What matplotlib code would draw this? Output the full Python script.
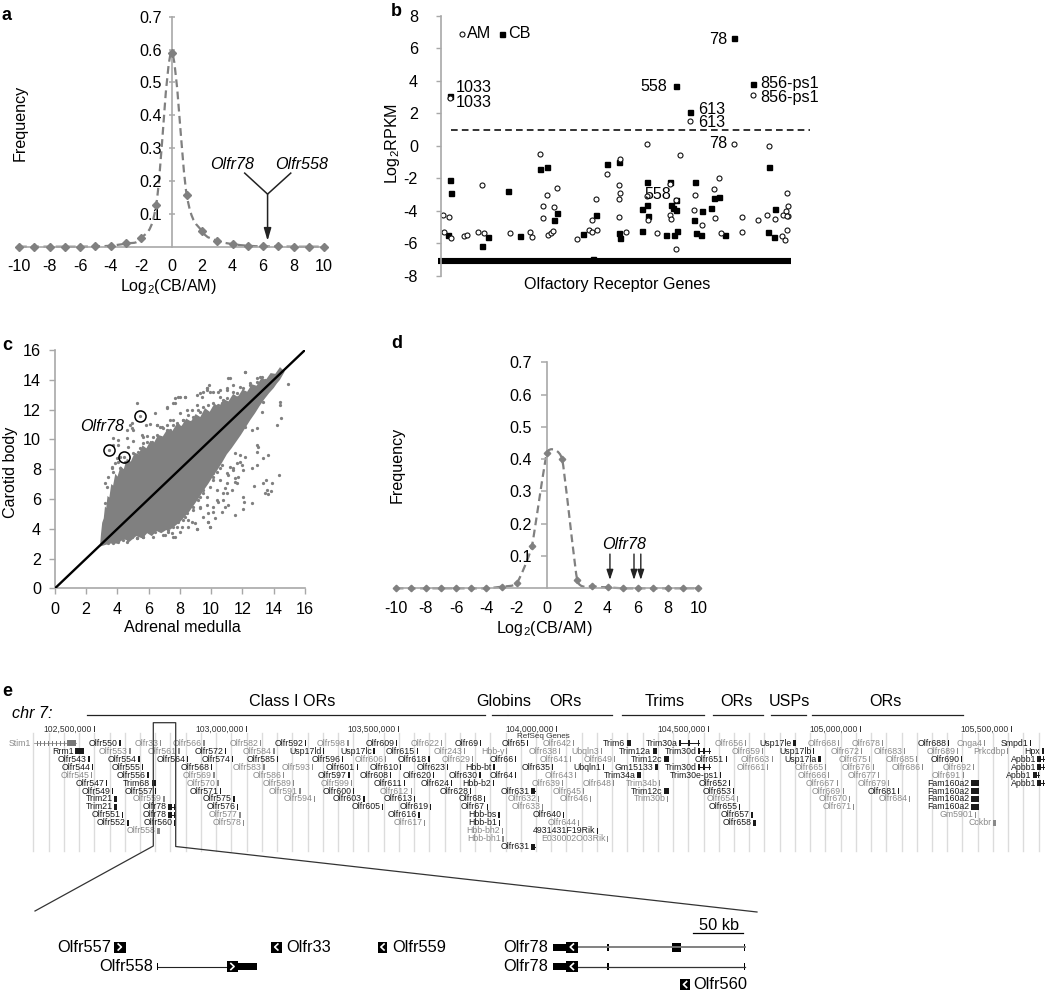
import numpy as np
import matplotlib
matplotlib.use("Agg")
import matplotlib.pyplot as plt
from matplotlib.path import Path
from matplotlib.patches import PathPatch, Polygon

plt.rcParams['font.family'] = ['Liberation Sans', 'DejaVu Sans']
plt.rcParams['mathtext.default'] = 'regular'
plt.rcParams['axes.unicode_minus'] = False

W, H = 1050, 998
FS = 11.6
GREY = '#808080'
SPINE = '#a8a8a8'

# ---------------- panel a / d data
bins = list(range(-10, 11))
freq_a = [0, 0, 0, 0, 0, 0.001, 0.003, 0.01, 0.025, 0.128, 0.59, 0.157, 0.047, 0.018, 0.008, 0.003, 0.001, 0.001, 0, 0, 0]
freq_d = [0, 0, 0, 0, 0, 0, 0, 0.005, 0.015, 0.13, 0.42, 0.40, 0.025, 0.006, 0.003, 0, 0, 0, 0, 0, 0]
freq_ticks = [0.1, 0.2, 0.3, 0.4, 0.5, 0.6, 0.7]
bin_ticks = list(range(-10, 11, 2))
d_arrows = [4.16, 5.75, 6.2]

# ---------------- panel b data
cb_gene = [9, 9, 9.7, 7.3, 47.3, 41, 66.7, 79, 99.3, 106, 112.7, 116.3, 142, 154.7, 151.7, 165.7, 178.3, 177.7, 179, 201.3,
           206.3, 206.3, 206.7, 201.3, 225, 228.7, 229.7, 232, 235, 234.7, 235.7, 233.3, 234.7, 249.3, 253.7, 253, 261.3,
           254.7, 259.7, 270, 272.7, 277.7, 284.3, 293, 311.7, 328.3, 326.7, 334, 332.7]
cb_rpkm = [3.09, -2.09, -2.90, -5.48, -5.58, -6.18, -2.76, -5.52, -1.41, -1.27, -4.54, -4.15, -5.42, -4.23, -6.95, -1.10,
           -1.00, -5.36, -5.64, -3.87, -3.62, -2.21, -4.34, -5.21, -5.50, -2.23, -3.62, -3.82, -3.97, -3.31, -5.21, -5.50,
           3.70, 2.11, -2.25, -4.54, -3.99, -5.38, -5.48, -3.82, -3.21, -3.15, -5.48, 6.65, 3.78, -1.33, -5.32, -3.91, -5.62]
am_gene = [9, 2.3, 8.3, 3, 9.7, 23.3, 26.3, 37.3, 43.3, 41, 69.3, 88.7, 91.3, 99.3, 105.7, 101.7, 113, 101.7, 106.7, 109.7,
           111.7, 116.3, 135.7, 147.7, 151.3, 156, 151.3, 154.7, 166, 179, 177.7, 179, 178, 178, 185, 206.3, 206.3, 206.7,
           216, 229.3, 229.3, 230.3, 238.7, 234.7, 235.3, 249.3, 253.7, 253, 261.3, 273.7, 272.7, 277.7, 280, 293, 301.3,
           301.3, 316.7, 326.3, 334, 328.3, 311.7, 342.3, 345.7, 346.7, 345.3, 347.3, 346.3, 345.7, 340.7, 344]
am_rpkm = [2.92, -4.23, -4.36, -5.28, -5.64, -5.56, -5.46, -5.30, -5.36, -2.43, -5.38, -5.32, -5.58, -0.51, -3.05, -3.70,
           -3.78, -4.42, -5.46, -5.36, -5.21, -2.60, -5.73, -5.19, -5.30, -5.19, -4.54, -3.29, -1.74, -0.80, -2.43, -2.90,
           -3.25, -4.38, -5.30, 0.10, -3.11, -4.54, -5.36, -2.33, -4.27, -4.50, -0.59, -3.31, -6.36, 1.51, -3.05, -3.93,
           -4.89, -4.46, -2.64, -2.00, -5.38, 0.12, -4.36, -5.30, -4.54, -4.25, -4.50, 0, 3.15, -4.25, -2.90, -3.72, -4.03,
           -4.34, -4.34, -5.19, -5.52, -5.77]
undetected_level = -7.1
threshold = 1
rpkm_ticks = [-8, -6, -4, -2, 0, 2, 4, 6, 8]

# ---------------- panel c data
cloud_am = [2.88, 2.94, 3.02, 3.12, 3.2, 3.28, 3.36, 3.48, 3.6, 3.72, 3.86, 4.0, 4.2, 4.4, 4.6, 4.85, 5.1, 5.35, 5.6, 5.85, 6.1,
            6.35, 6.6, 6.9, 7.2, 7.5, 7.8, 8.1, 8.4, 8.7, 9.0, 9.3, 9.6, 9.9, 10.2, 10.5, 10.8, 11.1, 11.4, 11.7, 12.0, 12.3,
            12.6, 12.9, 13.2, 13.5, 13.8, 14.1, 14.4, 14.7,
            14.4, 14.2, 14.0, 13.7, 13.4, 13.1, 12.8, 12.5, 12.2, 11.9, 11.6, 11.3, 11.0, 10.7, 10.4, 10.1, 9.8, 9.5, 9.2, 8.9,
            8.6, 8.3, 8.0, 7.7, 7.4, 7.1, 6.8, 6.5, 6.2, 5.9, 5.6, 5.2, 4.8, 4.4, 4.0, 3.5]
cloud_cb = [2.8, 3.6, 4.4, 4.7, 5.5, 5.4, 6.2, 6.1, 7.0, 6.9, 7.7, 7.5, 8.2, 8.0, 8.7, 8.5, 9.1, 9.0, 9.6, 9.4, 9.9,
            9.8, 10.3, 10.2, 10.7, 10.55, 11.05, 10.9, 11.4, 11.2, 11.7, 11.5, 12.1, 11.85, 12.4, 12.2, 12.7, 12.55, 13.05, 12.85,
            13.35, 13.2, 13.7, 13.6, 14.1, 14.0, 14.45, 14.4, 14.85, 14.55,
            14.0, 13.75, 13.45, 13.1, 12.7, 12.25, 11.75, 11.3, 10.8, 10.3, 9.85, 9.4, 9.0, 8.45, 7.95, 7.5, 7.0, 6.55, 6.05, 5.6,
            5.15, 4.8, 4.45, 4.2, 3.95, 3.9, 3.7, 3.85, 3.5, 3.7, 3.35, 3.5, 3.15, 3.3, 3.0, 3.0]
out_am = [5.23, 4.8, 4.9, 4.59, 5.65, 5.87, 5.01, 4.59, 3.73, 3.73, 3.2, 4.05, 4.05, 5.82, 6.08, 6.5, 7.15, 7.68, 8.0, 8.32,
          7.68, 9.07, 9.39, 9.49, 9.7, 9.88, 10.56, 11.2, 12.16, 12.48, 12.9, 13.12, 10.56, 10.99, 11.41, 10.13, 9.7, 9.28,
          6.72, 6.29, 6.93, 7.36, 7.57, 8.0, 8.43, 8.75, 9.07, 9.81, 10.24, 10.67, 10.99, 11.84, 12.69, 3.95,
          3.41, 3.31, 3.63, 3.84, 4.16, 4.48, 4.69, 5.01, 5.44, 5.65, 6.19, 6.61, 7.15, 7.79, 8.21, 3.2,
          14.93, 14.4, 14.4, 14.46, 14.19, 13.33, 13.23, 12.9, 12.59, 12.16, 12.9, 13.01, 12.9, 13.33, 13.61, 12.9, 12.59,
          11.84, 11.2, 11.52, 11.63, 14.34, 13.91, 13.48, 13.33, 12.76, 13.55, 13.81, 13.44, 13.61, 12.05, 12.12, 12.59,
          12.05, 11.52, 10.77, 10.35, 9.81, 9.81, 9.92, 9.07, 10.13, 10.88, 11.3, 10.99, 10.56, 10.35, 9.7, 9.28, 9.49,
          8.75, 8.53, 8.11, 7.57, 6.93, 7.25, 6.29, 5.65, 5.23, 4.59, 11.41, 10.56, 10.13, 9.49, 9.17, 8.85, 8.32, 7.79, 10.99]
out_cb = [12.46, 10.96, 10.74, 10.63, 10.18, 10.22, 9.89, 10.07, 10.07, 9.62, 7.05, 9.62, 9.96, 10.96, 11.0, 10.96, 12.08,
          12.42, 12.86, 12.86, 12.75, 12.98, 12.86, 13.2, 13.31, 13.65, 13.31, 14.09, 14.5, 13.76, 13.87, 14.2, 12.86, 13.42,
          13.2, 13.2, 13.42, 11.86, 10.85, 10.18, 10.74, 11.3, 10.96, 11.74, 11.97, 11.97, 12.3, 12.3, 12.19, 12.42, 12.75,
          13.53, 13.42, 8.72,
          7.49, 6.82, 8.17, 8.39, 8.84, 8.5, 9.51, 9.06, 9.4, 9.73, 9.84, 9.73, 10.63, 11.07, 11.3, 5.7,
          13.71, 12.53, 12.3, 11.45, 10.96, 12.53, 11.86, 10.74, 10.63, 10.85, 9.62, 9.51, 9.17, 8.72, 8.95, 8.28, 8.05,
          8.5, 8.17, 7.38, 7.05, 7.6, 7.09, 7.27, 7.09, 6.87, 6.6, 6.53, 6.38, 6.31, 6.15, 5.82, 5.7,
          5.32, 4.92, 6.38, 5.93, 5.03, 4.47, 4.14, 3.96, 5.48, 5.48, 6.6, 7.05, 7.27, 6.6, 6.15, 5.48, 4.81,
          4.47, 4.14, 4.14, 3.47, 3.58, 3.91, 3.47, 3.47, 3.36, 3.13, 7.94, 8.05, 7.49, 6.38, 5.93, 5.48, 4.81, 4.14, 6.38]
low_am = [7.68, 8.0, 7.57, 7.89, 8.21, 8.53, 8.96, 9.07, 9.92, 9.81, 10.24, 10.67, 10.13, 9.28, 9.71, 8.85, 8.43, 8.75, 9.28,
          9.49, 9.92, 10.45, 10.77, 11.09, 10.88, 10.13, 9.71, 9.07, 11.09, 11.41, 11.95, 12.05, 11.73, 11.52, 10.99, 11.63,
          12.16, 11.84, 11.52, 10.67, 10.35, 10.13, 6.19, 6.40, 6.72, 7.04, 7.25, 7.47, 5.65, 5.23, 4.69, 4.37, 4.91, 4.05,
          3.73, 3.41, 6.83, 6.93, 7.68, 7.25, 6.61]
low_cb = [3.47, 3.80, 4.14, 4.48, 4.59, 4.59, 4.36, 3.96, 4.14, 4.48, 4.70, 5.15, 5.15, 5.37, 5.59, 5.26, 5.03, 5.71, 6.15,
          6.60, 6.83, 5.82, 5.93, 5.59, 6.71, 7.27, 7.39, 6.94, 7.61, 8.06, 8.28, 7.95, 7.50, 7.16, 7.72, 8.39, 8.84, 8.95,
          9.06, 8.28, 7.83, 7.72, 4.03, 3.80, 3.92, 3.58, 3.80, 3.69, 3.47, 3.36, 3.24, 3.24, 3.47, 3.13, 3.02, 3.02, 4.70,
          4.36, 4.59, 4.59, 4.25]
up_am = [3.63, 3.73, 4.16, 4.05, 4.59, 5.01, 5.33, 5.65, 5.44, 5.97, 6.29, 5.87, 6.51, 6.72, 6.83, 7.15, 7.57, 7.89, 8.21, 8.53,
         8.85, 8.64, 9.17, 9.49, 9.71, 10.13, 10.45, 10.77, 9.71, 9.92, 9.28, 10.45, 10.99, 11.41, 11.09, 12.16, 12.91, 13.23,
         13.44, 11.63, 12.05, 12.48, 5.01, 4.91, 5.55, 6.40, 7.15, 7.57, 7.89, 8.32, 6.51, 7.36, 8.32, 9.07, 9.39, 9.81, 10.24,
         10.67, 11.2, 11.73, 12.16, 12.69]
up_cb = [8.06, 7.83, 8.06, 8.51, 8.17, 8.51, 9.18, 9.07, 8.73, 9.40, 9.63, 9.85, 10.30, 10.07, 10.86, 10.97, 11.30, 10.97, 11.30,
         11.64, 11.53, 11.19, 11.98, 12.20, 11.86, 12.42, 12.31, 12.65, 13.43, 13.21, 13.10, 13.21, 13.32, 13.66, 14.10, 14.55,
         14.10, 14.21, 13.99, 13.10, 13.43, 13.66, 10.63, 11.08, 10.30, 11.75, 12.20, 12.42, 12.87, 12.87, 10.97, 10.63, 10.86,
         11.19, 11.53, 11.42, 11.86, 12.09, 12.54, 12.87, 12.87, 13.21]
olfr78_am = [5.45, 3.45, 4.4]
olfr78_cb = [11.6, 9.3, 8.8]
expr_ticks = list(range(0, 17, 2))

# ---------------- panel e data (track position, row, shade k=black g=grey)
gene_names = [
 ["Olfr550","Olfr33","Olfr566","Olfr582","Olfr592","Olfr598","Olfr609","Olfr622","Olfr69","Olfr65","Olfr642","Trim6","Trim30a","Olfr656","Usp17le","Olfr668","Olfr678","Olfr688","Cnga4","Smpd1"],
 ["Rrm1","Olfr553","Olfr561","Olfr572","Olfr584","Usp17ld","Usp17lc","Olfr615","Olfr243","Hbb-y","Olfr638","Ubqln3","Trim12a","Trim30d","Olfr659","Usp17lb","Olfr672","Olfr683","Olfr689","Prkcdbp","Hpx"],
 ["Olfr543","Olfr554","Olfr564","Olfr574","Olfr585","Olfr596","Olfr606","Olfr618","Olfr629","Olfr66","Olfr641","Olfr649","Trim12c","Olfr651","Olfr663","Usp17la","Olfr675","Olfr685","Olfr690","Apbb1"],
 ["Olfr544","Olfr555","Olfr568","Olfr583","Olfr593","Olfr601","Olfr610","Olfr623","Hbb-bt","Olfr635","Ubqln1","Gm15133","Trim30d","Olfr661","Olfr665","Olfr676","Olfr686","Olfr692","Apbb1"],
 ["Olfr545","Olfr556","Olfr569","Olfr586","Olfr597","Olfr608","Olfr620","Olfr630","Olfr64","Olfr643","Trim34a","Trim30e-ps1","Olfr666","Olfr677","Olfr691","Apbb1"],
 ["Olfr547","Trim68","Olfr570","Olfr589","Olfr599","Olfr611","Olfr624","Hbb-b2","Olfr639","Olfr648","Trim34b","Olfr652","Olfr667","Olfr679","Fam160a2","Apbb1"],
 ["Olfr549","Olfr557","Olfr571","Olfr591","Olfr600","Olfr612","Olfr628","Olfr631","Olfr645","Trim12c","Olfr653","Olfr669","Olfr681","Fam160a2"],
 ["Trim21","Olfr559","Olfr575","Olfr594","Olfr603","Olfr613","Olfr68","Olfr632","Olfr646","Trim30b","Olfr654","Olfr670","Olfr684","Fam160a2"],
 ["Trim21","Olfr78","Olfr576","Olfr605","Olfr619","Olfr67","Olfr633","Olfr655","Olfr671","Fam160a2"],
 ["Olfr551","Olfr78","Olfr577","Olfr616","Hbb-bs","Olfr640","Olfr657","Gm5901"],
 ["Olfr552","Olfr560","Olfr578","Olfr617","Hbb-b1","Olfr644","Olfr658","Cckbr"],
 ["Olfr558","Hbb-bh2","4931431F19Rik"],
 ["Hbb-bh1","E030002O03Rik"],
 ["Olfr631"],
]
gene_pos = [
 [119.3,160,203.3,260,305,347.3,396,441,480,527,573,626.7,679,745,793,838,881.7,947.7,984,1030],
 [75,129.3,178.3,225,273.3,322.7,373.3,416.7,464,506,559,600.7,652.7,698,761.7,813,860.7,904,956.7,1006.7,1041.7],
 [88.3,138.3,186.7,231.7,276.7,341.7,385,428.3,471.7,515,570,614,664,725.7,771.7,817.7,869,915.7,961,1037.7],
 [91.7,141.7,210.7,263.3,311.7,356.7,400,446.7,493.3,551.7,603,655,698,767,825,872.7,922,973,1037.7],
 [90.7,147.3,213.3,282.7,348.3,390,432.7,479.3,515,575,636.7,720,828,878,962.7,1033],
 [106,151.7,217.3,292.7,350.7,404,450.7,492.7,561.7,612.7,659,729,836.7,887.7,970.7,1037.7],
 [111.7,155,220,299.3,352.7,410.7,470,531,583,664,733,842.7,898,970.7],
 [114,163.3,233.3,314,363.3,414,484,538,590,666.7,736.7,849,909,970.7],
 [114,168.3,236.7,381.7,430,486.7,541.7,739,853,970.7],
 [121.7,168.3,239.3,418.3,498.3,563,750.7,975],
 [127.3,174,242.7,424,499,578,753,993],
 [157,501.7,597],
 [502.3,607],
 [531],
]
gene_shade = [
 "kgggkgkgkkgkkgkggkgk",
 "kggkgkkkggggkkgkggggk",
 "kkkkkkgkgkggkkgkggkk",
 "kkkggkkkkkkkkgggggk",
 "gkggkkkkkgkkgggk",
 "kkgggkkkgggkggkk",
 "kkkgkgkkgkkgkk",
 "kgkgkkkggggggk",
 "kkkkkkgkgk",
 "kkgkkkkg",
 "kkggkgkg",
 "ggk",
 "gg",
 "k",
]
mark_width = {"Rrm1": 9, "Trim21": 3, "Trim68": 4, "Trim6": 4, "Fam160a2": 8, "Trim12c": 5, "Trim12a": 4, "Trim30a": 20,
              "Trim30d": 12, "Olfr78": 7, "Apbb1": 6, "Usp17le": 3, "Usp17la": 3, "Trim34a": 4, "Olfr631": 4, "Gm15133": 3,
              "Olfr658": 2.5, "Olfr657": 2, "Cckbr": 3, "Hpx": 2.5, "Olfr558": 2.5}
line_genes = ["Trim30a", "Trim30d", "Olfr78", "Olfr631", "Apbb1"]
mb_tick_pos = [94.3, 246.7, 398.3, 556.7, 708.3, 860.7, 1011.7]
mb_tick_labels = ["102,500,000", "103,000,000", "103,500,000", "104,000,000", "104,500,000", "105,000,000", "105,500,000"]
cluster_names = ["Class I ORs", "Globins", "ORs", "Trims", "ORs", "USPs", "ORs"]
cluster_start = [87, 492, 508, 622.3, 712.7, 770.7, 812.3]
cluster_end = [485, 507, 611.7, 704, 763, 806, 962.7]
cluster_text = [291.7, 504, 565.7, 665, 736, 789, 885.7]


def px_axes(l, t, r, b):
    return fig.add_axes([l / W, 1 - b / H, (r - l) / W, (b - t) / H])


def smooth_line(ax, xs, ys, tension, **kw):
    p = np.column_stack([xs, ys]).astype(float)
    verts = [p[0]]
    codes = [Path.MOVETO]
    n = len(p)
    for i in range(n - 1):
        p0 = p[max(i - 1, 0)]
        p3 = p[min(i + 2, n - 1)]
        verts += [p[i] + (p[i + 1] - p0) * tension, p[i + 1] - (p3 - p[i]) * tension, p[i + 1]]
        codes += [Path.CURVE4] * 3
    ax.add_patch(PathPatch(Path(verts, codes), fill=False, **kw))


def freq_panel(ax, freq, ms, direction, pad, tension):
    ax.set_xlim(-10, 10)
    ax.set_ylim(0, 0.7)
    ax.patch.set_alpha(0)
    for s in ['top', 'right']:
        ax.spines[s].set_visible(False)
    ax.spines['left'].set_position(('data', 0))
    for s in ['left', 'bottom']:
        ax.spines[s].set_color(SPINE)
        ax.spines[s].set_linewidth(1.2)
    ax.set_xticks(bin_ticks)
    ax.set_yticks(freq_ticks)
    ax.set_yticklabels([f"{v:.1f}" for v in freq_ticks])
    ax.tick_params(axis='x', length=0, labelsize=FS, pad=9)
    ax.tick_params(axis='y', length=4, color=SPINE, width=1.1, labelsize=FS, pad=pad, direction=direction)
    smooth_line(ax, bins, freq, tension, edgecolor=GREY, lw=1.6, linestyle=(0, (3.5, 2)), clip_on=False)
    ax.plot(bins, freq, ls='none', marker='D', ms=ms, color=GREY, mec=GREY, clip_on=False, zorder=4)


fig = plt.figure(figsize=(W / 100, H / 100), dpi=100, facecolor='white')

# panel a
axa = px_axes(19, 16.7, 324, 246.7)
freq_panel(axa, freq_a, 4.2, 'inout', 5, 1 / 6)
axa.plot([4.8, 6.3, 7.82], [0.224, 0.16, 0.224], color='#222222', lw=1.1)
axa.annotate('', xy=(6.3, 0.018), xytext=(6.3, 0.16),
             arrowprops=dict(arrowstyle='-|>,head_width=0.22,head_length=0.75', color='#222222', lw=1.1, shrinkA=0, shrinkB=0))
axa.text(4.0, 0.25, 'Olfr78', style='italic', fontsize=FS, ha='center', va='center')
axa.text(8.55, 0.25, 'Olfr558', style='italic', fontsize=FS, ha='center', va='center')

# panel d
axd = px_axes(395.7, 362.3, 698.3, 588.3)
freq_panel(axd, freq_d, 3.3, 'out', 7, 1 / 13)
for xa in d_arrows:
    axd.annotate('', xy=(xa, 0.026), xytext=(xa, 0.106),
                 arrowprops=dict(arrowstyle='-|>,head_width=0.2,head_length=0.6', color='#222222', lw=1.0, shrinkA=0, shrinkB=0))
axd.text(5.1, 0.136, 'Olfr78', style='italic', fontsize=FS, ha='center', va='center')

# panel b
axb = px_axes(441, 15.7, 810, 276)
axb.set_xlim(0, 369)
axb.set_ylim(-8, 8)
axb.patch.set_alpha(0)
for s in ['top', 'right', 'bottom']:
    axb.spines[s].set_visible(False)
axb.spines['left'].set_color(SPINE)
axb.spines['left'].set_linewidth(1.2)
axb.set_xticks([])
axb.set_yticks(rpkm_ticks)
axb.tick_params(axis='y', length=3.5, width=1, color=SPINE, labelsize=FS, pad=13)
axb.plot([9.7, 369], [threshold, threshold], color='#111111', lw=1.2, ls=(0, (4, 2.5)))
axb.plot([-3, 350], [undetected_level, undetected_level], color='black', lw=4.4, solid_capstyle='butt', clip_on=False)
axb.plot(cb_gene, cb_rpkm, ls='none', marker='s', ms=3.6, color='black', clip_on=False)
axb.plot(am_gene, am_rpkm, ls='none', marker='o', ms=3.6, mfc='white', mec='#111111', mew=0.8, clip_on=False)
axb.plot([21.3], [6.9], ls='none', marker='o', ms=3.6, mfc='white', mec='#111111', mew=0.8)
axb.plot([61], [6.9], ls='none', marker='s', ms=3.6, color='black')
b_texts = [(25.5, 6.9, 'AM', 'left'), (67, 6.9, 'CB', 'left'), (14.7, 3.6, '1033', 'left'), (14.7, 2.68, '1033', 'left'),
           (286, 6.55, '78', 'right'), (226.3, 3.65, '558', 'right'), (256.7, 2.25, '613', 'left'), (256.7, 1.43, '613', 'left'),
           (286, 0.12, '78', 'right'), (203, -3.0, '558', 'left'), (319, 3.84, '856-ps1', 'left'), (319, 2.98, '856-ps1', 'left')]
for x_, y_, t_, ha_ in b_texts:
    axb.text(x_, y_, t_, fontsize=FS, ha=ha_, va='center', clip_on=False)

# panel c
axc = px_axes(55, 350, 305, 588.3)
axc.set_xlim(0, 16)
axc.set_ylim(0, 16)
axc.patch.set_alpha(0)
for s in ['top', 'right']:
    axc.spines[s].set_visible(False)
for s in ['left', 'bottom']:
    axc.spines[s].set_color(SPINE)
    axc.spines[s].set_linewidth(1.2)
axc.set_xticks(expr_ticks)
axc.set_yticks(expr_ticks)
axc.tick_params(length=4, width=1, color=SPINE, labelsize=FS, pad=6)
axc.add_patch(Polygon(np.column_stack([cloud_am, cloud_cb]), closed=True, color=GREY, lw=0))
for xs_, ys_ in [(out_am, out_cb), (low_am, low_cb), (up_am, up_cb)]:
    axc.scatter(xs_, ys_, s=5.5, color=GREY, marker='o', linewidths=0, zorder=3)
axc.plot([0, 16], [0, 16], color='black', lw=1.7, zorder=4)
axc.scatter(olfr78_am, olfr78_cb, s=5.5, color=GREY, linewidths=0, zorder=5)
axc.plot(olfr78_am, olfr78_cb, ls='none', marker='o', ms=8, mfc='none', mec='black', mew=1.1, zorder=5)
axc.text(2.99, 10.85, 'Olfr78', style='italic', fontsize=FS, ha='center', va='center', zorder=6)

# overlay in track coordinates
ov = fig.add_axes([0, 0, 1, 1], zorder=10)
ov.set_xlim(0, W)
ov.set_ylim(H, 0)
ov.axis('off')
ov.patch.set_alpha(0)

for t_, x_, y_ in [('a', 7, 15), ('b', 396, 11), ('c', 7, 345), ('d', 397, 344), ('e', 7, 692)]:
    ov.text(x_, y_, t_, fontsize=13, fontweight='bold', ha='center', va='center')
ov.text(20, 123, 'Frequency', rotation=90, fontsize=FS, ha='center', va='center')
ov.text(168, 287, r'Log$_2$(CB/AM)', fontsize=FS, ha='center', va='center')
ov.text(397, 465, 'Frequency', rotation=90, fontsize=FS, ha='center', va='center')
ov.text(544, 628, r'Log$_2$(CB/AM)', fontsize=FS, ha='center', va='center')
ov.text(392, 143, r'Log$_2$RPKM', rotation=90, fontsize=FS, ha='center', va='center')
ov.text(617.5, 285, 'Olfactory Receptor Genes', fontsize=FS, ha='center', va='center')
ov.text(11, 472, 'Carotid body', rotation=90, fontsize=FS, ha='center', va='center')
ov.text(182.3, 628, 'Adrenal medulla', fontsize=FS, ha='center', va='center')

# panel e header
ov.text(12, 713, 'chr 7:', style='italic', fontsize=FS, ha='left', va='center')
for nm, a_, b_, c_ in zip(cluster_names, cluster_start, cluster_end, cluster_text):
    ov.plot([a_, b_], [714.5, 714.5], color='#222222', lw=0.9)
    ov.text(c_, 702, nm, fontsize=FS, ha='center', va='center')

# track grid lines
for gx in np.arange(33.4, 1045, 15.23):
    ov.plot([gx, gx], [733, 851], color='#dcdcdc', lw=1.0, zorder=1)


def row_y(r):
    return 743.3 + 7.95 * r


for lab, px in zip(mb_tick_labels, mb_tick_pos):
    ov.text(px - 3, 729, lab, fontsize=6.2, ha='right', va='center', color='#333333', zorder=3)
    ov.bar(px, 6, width=1.2, bottom=726, color='#333333', zorder=3)
ov.text(543, 737, 'RefSeq Genes', fontsize=5.8, ha='center', va='center', color='#333333', zorder=3)

ov.text(31, row_y(0), 'Stim1', fontsize=6.3, ha='right', va='center', color='#8a8a8a', zorder=3)
ov.plot([34, 76], [row_y(0), row_y(0)], color='#777777', lw=0.5, zorder=3)
ov.bar([37, 40, 44, 48, 52, 56, 60, 64], 5, width=1.0, bottom=row_y(0) - 2.5, color='#777777', zorder=3)
ov.bar(71, 6, width=9, bottom=row_y(0) - 3, color='#777777', zorder=3)

for r, (nms, poss, shades) in enumerate(zip(gene_names, gene_pos, gene_shade)):
    for nm, p, sh in zip(nms, poss, shades):
        col = '#1a1a1a' if sh == 'k' else '#8a8a8a'
        y_ = row_y(r)
        w_ = mark_width.get(nm, 1.3)
        ov.text(p - 1.5, y_, nm, fontsize=6.3, ha='right', va='center', color=col, zorder=3)
        if nm in line_genes:
            ov.plot([p, p + w_], [y_, y_], color=col, lw=0.7, zorder=3)
            ov.bar([p + 1, p + w_ * 0.5, p + w_ - 0.5], 6, width=[2.5, 1.2, 1.0], bottom=y_ - 3, color=col, zorder=3)
        else:
            ov.bar(p + w_ / 2, 6, width=w_, bottom=y_ - 3, color=col, zorder=3)

# zoom lines
ov.plot([35, 153.3, 153.3, 175.7, 175.7, 757], [911, 846, 722.7, 722.7, 846.5, 912], color='#333333', lw=0.9, zorder=4)

# panel e close-up
LR1, LR2, LR3 = 947, 966.5, 984.5
CLOSE_FS = 11.8


def box(x0, x1, y, pointing):
    ov.bar((x0 + x1) / 2, 11, width=x1 - x0, bottom=y - 5.5, color='black', zorder=5)
    xm = (x0 + x1) / 2
    d = 1.6 if pointing == 'r' else -1.6
    ov.plot([xm - d, xm + d, xm - d], [y - 3, y, y + 3], color='white', lw=1.2, zorder=6)


ov.text(111, LR1, 'Olfr557', fontsize=CLOSE_FS, ha='right', va='center')
box(113.7, 125.9, LR1, 'r')
ov.text(152.7, LR2, 'Olfr558', fontsize=CLOSE_FS, ha='right', va='center')
ov.plot([157.6, 230], [LR2, LR2], color='#222222', lw=0.8)
ov.bar(157.6, 7, width=1.2, bottom=LR2 - 3.5, color='black')
ov.bar(247, 7, width=19, bottom=LR2 - 3.5, color='black')
box(227, 238, LR2, 'r')
box(271, 281.5, LR1, 'l')
ov.text(286, LR1, 'Olfr33', fontsize=CLOSE_FS, ha='left', va='center')
box(377.6, 387.3, LR1, 'l')
ov.text(392, LR1, 'Olfr559', fontsize=CLOSE_FS, ha='left', va='center')
for yy, lw_, col_ in [(LR1, 1.3, '#777777'), (LR2, 0.9, '#333333')]:
    ov.text(548, yy, 'Olfr78', fontsize=CLOSE_FS, ha='right', va='center')
    ov.plot([577, 745], [yy, yy], color=col_, lw=lw_)
    ov.bar(559.5, 7, width=14, bottom=yy - 3.5, color='black')
    box(566, 577.6, yy, 'l')
    ov.bar([608, 744.5], 7, width=1.3, bottom=yy - 3.5, color='black')
ov.bar(676.5, 9, width=9, bottom=LR1 - 4.5, color='black')
box(680, 690, LR3, 'l')
ov.text(693, LR3, 'Olfr560', fontsize=CLOSE_FS, ha='left', va='center')
ov.plot([693, 743.4], [933.3, 933.3], color='black', lw=0.9)
ov.text(719, 925, '50 kb', fontsize=CLOSE_FS, ha='center', va='center')

fig.savefig('out.png', dpi=100)
